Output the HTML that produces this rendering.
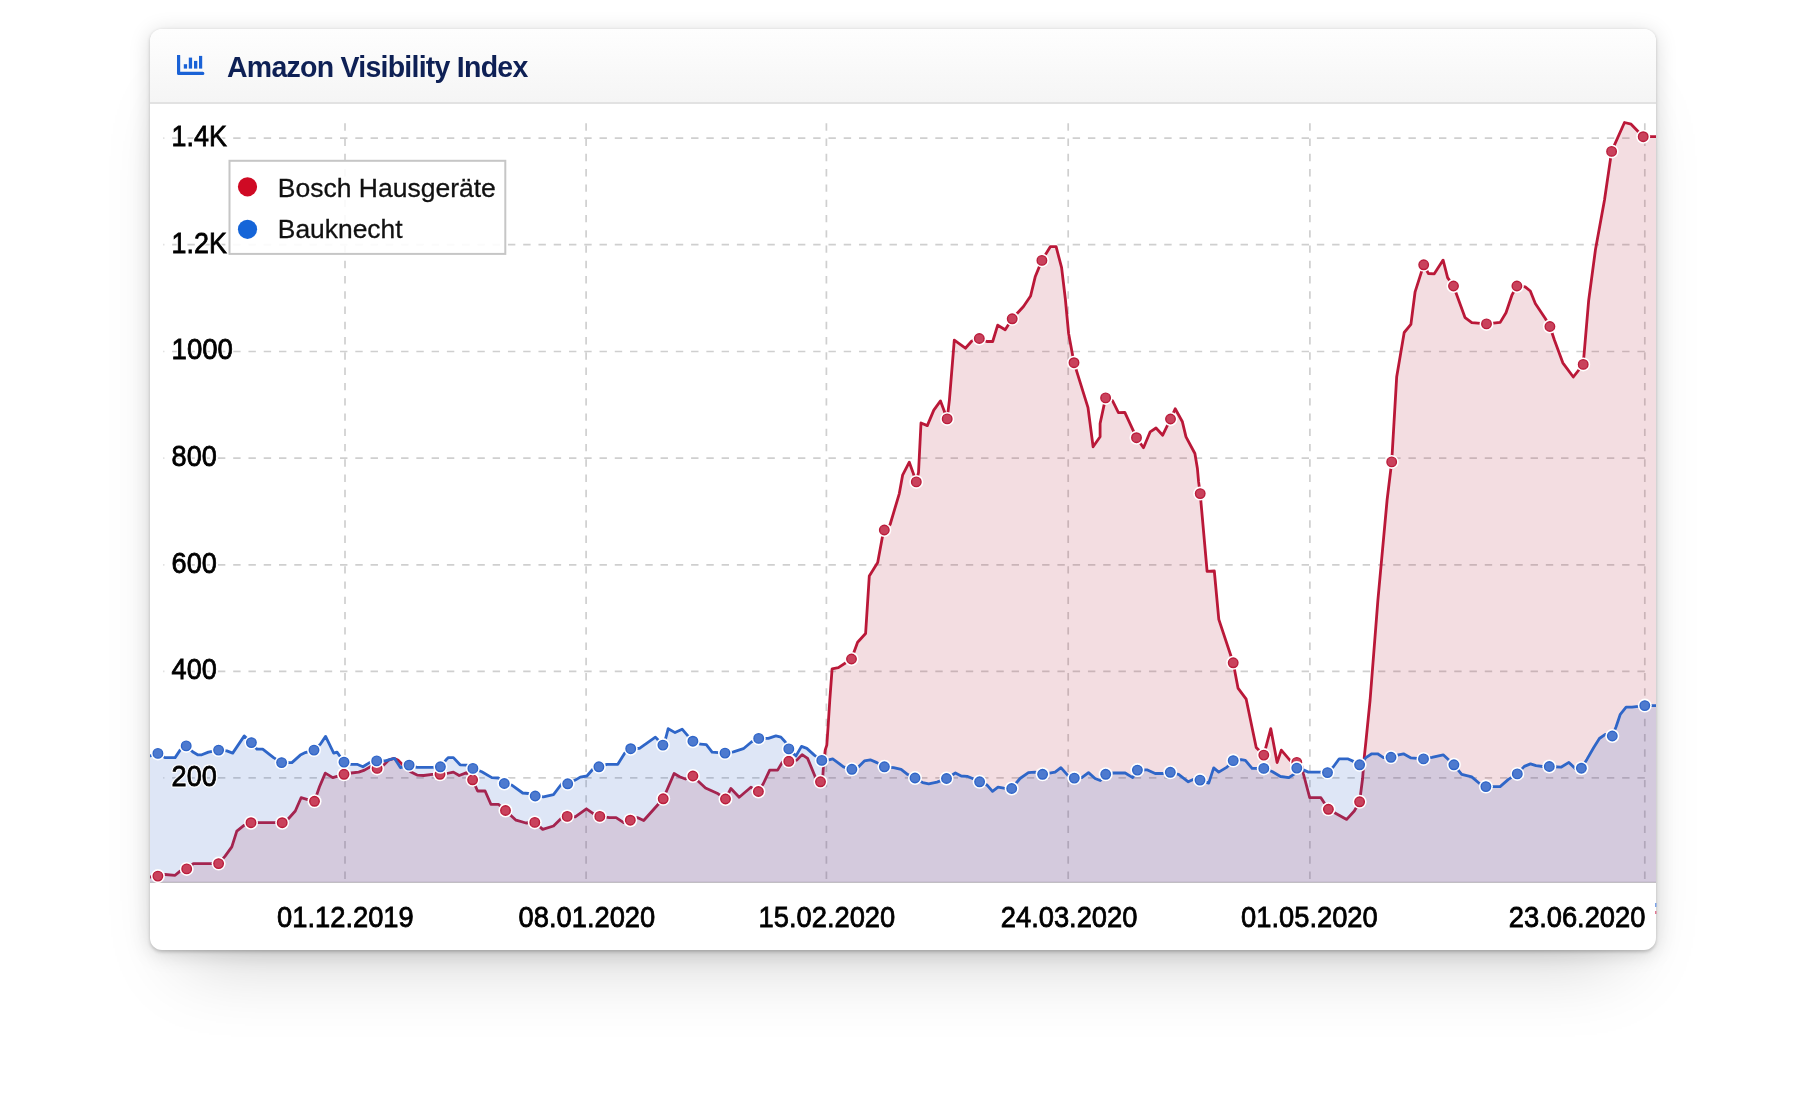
<!DOCTYPE html>
<html><head><meta charset="utf-8"><title>Amazon Visibility Index</title>
<style>
html,body{margin:0;padding:0;background:#fff;}
body{width:1806px;height:1096px;position:relative;overflow:hidden;font-family:"Liberation Sans",sans-serif;}
.card{position:absolute;left:150px;top:29px;width:1506px;height:921px;background:#fff;border-radius:12px;
 box-shadow:0 1.7px 3.6px rgba(0,0,0,.2),0 3px 21px rgba(0,0,0,.15),0 46px 72px -34px rgba(0,0,0,.18);overflow:hidden;}
.hdr{position:absolute;left:0;top:0;right:0;height:73px;background:linear-gradient(#fefefe,#f5f5f5);border-bottom:2px solid #e2e2e2;}
.title{will-change:transform;position:absolute;left:77px;top:20.9px;font-weight:bold;font-size:28.5px;line-height:34px;color:#0e2055;white-space:nowrap;letter-spacing:-0.75px;transform:scaleY(1.03);transform-origin:0 80%;}
.icon{position:absolute;left:26px;top:25.8px;}
.chart{position:absolute;left:0;top:0;will-change:transform;}
</style></head><body>
<div class="card">
 <div class="hdr">
  <svg class="icon" width="30" height="22" viewBox="0 0 30 22"><path d="M2.6 0.8 V18.4 H26.8" fill="none" stroke="#1a62d6" stroke-width="3.2" stroke-linejoin="round" stroke-linecap="round"/><g fill="#1a62d6"><rect x="7.8" y="9.2" width="3.3" height="4.4"/><rect x="12.8" y="2.6" width="3.3" height="11"/><rect x="18" y="5.9" width="3.3" height="7.7"/><rect x="23" y="0.9" width="3.2" height="12.7"/></g></svg>
  <div class="title">Amazon Visibility Index</div>
 </div>
</div>
<svg class="chart" width="1806" height="1096" viewBox="0 0 1806 1096">
<defs><clipPath id="cp"><rect x="150" y="103" width="1506" height="780"/></clipPath></defs>
<g stroke="#cfcfcf" stroke-width="1.7" fill="none">
<path d="M1644.8 138.1 L163.4 138.1" stroke-dasharray="7.4 7.863"/>
<path d="M1644.8 244.7 L163.4 244.7" stroke-dasharray="7.4 7.863"/>
<path d="M1644.8 351.5 L163.4 351.5" stroke-dasharray="7.4 7.863"/>
<path d="M1644.8 458.1 L163.4 458.1" stroke-dasharray="7.4 7.863"/>
<path d="M1644.8 564.8 L163.4 564.8" stroke-dasharray="7.4 7.863"/>
<path d="M1644.8 671.4 L163.4 671.4" stroke-dasharray="7.4 7.863"/>
<path d="M1644.8 777.8 L163.4 777.8" stroke-dasharray="7.4 7.863"/>
<path d="M345.0 123.3 L345.0 882" stroke-dasharray="7.4 7.87"/>
<path d="M586.1 123.3 L586.1 882" stroke-dasharray="7.4 7.87"/>
<path d="M826.4 123.3 L826.4 882" stroke-dasharray="7.4 7.87"/>
<path d="M1068.2 123.3 L1068.2 882" stroke-dasharray="7.4 7.87"/>
<path d="M1309.9 123.3 L1309.9 882" stroke-dasharray="7.4 7.87"/>
<path d="M1644.8 123.3 L1644.8 882" stroke-dasharray="7.4 7.87"/>
</g>
<path d="M150 882.3 L1656 882.3" stroke="#c9c9c9" stroke-width="1.2"/>
<g clip-path="url(#cp)">
<path d="M150.0 877.0 L157.9 876.1 L165.0 874.5 L175.1 875.3 L180.1 871.1 L186.7 868.9 L193.4 863.6 L218.6 863.6 L225.1 856.1 L231.8 846.9 L236.8 831.1 L244.3 825.2 L251.0 822.7 L282.2 822.7 L288.6 818.5 L295.3 811.0 L301.1 797.7 L306.9 799.3 L314.5 801.3 L319.5 786.8 L325.3 773.1 L332.8 777.6 L344.0 774.3 L351.2 773.0 L358.7 772.1 L364.5 770.1 L370.4 766.8 L377.1 768.4 L383.7 765.1 L388.7 760.1 L393.8 758.4 L397.9 760.1 L403.8 765.9 L410.5 771.8 L417.1 775.1 L423.8 775.5 L432.2 774.3 L440.0 774.3 L446.7 773.5 L453.4 772.1 L459.2 775.5 L466.7 772.6 L472.6 779.8 L477.6 791.0 L485.1 791.0 L490.9 804.3 L498.4 804.3 L505.5 810.5 L516.0 820.2 L526.0 823.0 L534.8 822.4 L542.7 829.4 L553.5 826.0 L561.1 818.5 L567.2 816.4 L575.2 816.9 L586.4 808.8 L594.4 814.4 L599.8 816.4 L609.5 817.7 L616.1 817.7 L623.7 822.7 L630.3 820.2 L637.8 817.7 L643.7 820.5 L663.2 798.8 L674.1 773.5 L679.6 776.8 L685.4 779.0 L692.9 776.0 L698.8 781.8 L705.5 788.0 L717.1 793.2 L725.5 799.0 L730.9 788.5 L739.2 797.3 L750.9 787.3 L758.4 791.5 L763.4 783.5 L769.7 770.1 L777.6 770.1 L782.6 761.8 L788.8 761.3 L796.8 760.1 L802.1 754.6 L807.6 758.4 L815.2 776.8 L820.5 781.8 L822.7 778.5 L823.5 765.1 L825.2 750.1 L826.8 745.1 L828.2 725.0 L829.8 700.0 L832.1 668.9 L838.4 667.7 L851.5 659.0 L857.6 642.2 L865.6 633.5 L869.3 575.9 L877.7 562.6 L882.3 537.5 L884.3 530.0 L890.1 524.5 L899.3 493.6 L902.6 475.2 L909.3 462.2 L916.3 481.9 L918.5 472.7 L921.0 423.0 L927.3 425.6 L933.8 410.1 L940.5 400.9 L947.2 418.9 L949.4 400.1 L954.3 340.2 L965.4 348.2 L971.8 341.0 L979.3 338.5 L986.8 341.5 L992.7 341.5 L997.7 325.2 L1005.2 329.8 L1012.2 318.8 L1023.5 306.5 L1030.6 296.0 L1035.2 276.8 L1041.9 260.4 L1050.3 246.7 L1056.1 246.7 L1061.6 267.6 L1065.3 298.5 L1068.6 333.5 L1074.0 362.7 L1088.0 407.6 L1093.1 446.8 L1100.1 436.8 L1100.1 423.5 L1105.6 397.9 L1112.6 400.9 L1118.4 412.6 L1124.8 412.3 L1136.5 437.7 L1143.5 447.7 L1150.2 431.8 L1156.0 428.0 L1162.7 435.2 L1170.5 419.0 L1175.2 408.8 L1182.4 421.8 L1186.0 436.8 L1194.9 453.5 L1197.4 468.5 L1198.6 481.9 L1200.2 493.6 L1207.1 571.3 L1214.3 571.0 L1218.8 619.4 L1233.2 662.8 L1238.0 688.1 L1246.2 699.2 L1256.2 747.5 L1263.8 755.1 L1270.8 728.7 L1277.1 762.6 L1281.3 750.1 L1290.5 760.9 L1296.8 760.9 L1302.2 766.8 L1303.3 773.5 L1309.7 797.7 L1320.9 797.7 L1328.4 809.3 L1335.9 813.5 L1346.7 819.4 L1354.3 811.0 L1359.6 801.8 L1362.6 778.5 L1364.3 756.8 L1365.9 741.7 L1370.1 700.0 L1377.9 600.2 L1387.1 500.0 L1391.7 461.9 L1396.7 376.7 L1404.2 332.5 L1410.9 324.4 L1415.1 291.8 L1423.7 264.8 L1428.4 273.5 L1434.3 273.8 L1443.1 260.1 L1447.6 277.6 L1453.5 286.0 L1465.1 317.7 L1471.8 322.7 L1486.5 323.9 L1500.2 322.4 L1506.0 312.7 L1511.9 295.2 L1516.9 286.0 L1525.2 286.8 L1530.3 291.0 L1535.3 303.5 L1545.3 318.5 L1549.9 326.5 L1554.5 340.2 L1562.8 362.8 L1573.3 377.0 L1583.2 364.4 L1588.7 300.2 L1595.4 250.1 L1604.5 200.0 L1611.6 151.4 L1624.5 122.5 L1631.1 124.2 L1643.2 136.7 L1656.0 136.7 L1656.0 882.3 L150.0 882.3 Z" fill="#af1c37" fill-opacity="0.15"/>
<path d="M150.0 877.0 L157.9 876.1 L165.0 874.5 L175.1 875.3 L180.1 871.1 L186.7 868.9 L193.4 863.6 L218.6 863.6 L225.1 856.1 L231.8 846.9 L236.8 831.1 L244.3 825.2 L251.0 822.7 L282.2 822.7 L288.6 818.5 L295.3 811.0 L301.1 797.7 L306.9 799.3 L314.5 801.3 L319.5 786.8 L325.3 773.1 L332.8 777.6 L344.0 774.3 L351.2 773.0 L358.7 772.1 L364.5 770.1 L370.4 766.8 L377.1 768.4 L383.7 765.1 L388.7 760.1 L393.8 758.4 L397.9 760.1 L403.8 765.9 L410.5 771.8 L417.1 775.1 L423.8 775.5 L432.2 774.3 L440.0 774.3 L446.7 773.5 L453.4 772.1 L459.2 775.5 L466.7 772.6 L472.6 779.8 L477.6 791.0 L485.1 791.0 L490.9 804.3 L498.4 804.3 L505.5 810.5 L516.0 820.2 L526.0 823.0 L534.8 822.4 L542.7 829.4 L553.5 826.0 L561.1 818.5 L567.2 816.4 L575.2 816.9 L586.4 808.8 L594.4 814.4 L599.8 816.4 L609.5 817.7 L616.1 817.7 L623.7 822.7 L630.3 820.2 L637.8 817.7 L643.7 820.5 L663.2 798.8 L674.1 773.5 L679.6 776.8 L685.4 779.0 L692.9 776.0 L698.8 781.8 L705.5 788.0 L717.1 793.2 L725.5 799.0 L730.9 788.5 L739.2 797.3 L750.9 787.3 L758.4 791.5 L763.4 783.5 L769.7 770.1 L777.6 770.1 L782.6 761.8 L788.8 761.3 L796.8 760.1 L802.1 754.6 L807.6 758.4 L815.2 776.8 L820.5 781.8 L822.7 778.5 L823.5 765.1 L825.2 750.1 L826.8 745.1 L828.2 725.0 L829.8 700.0 L832.1 668.9 L838.4 667.7 L851.5 659.0 L857.6 642.2 L865.6 633.5 L869.3 575.9 L877.7 562.6 L882.3 537.5 L884.3 530.0 L890.1 524.5 L899.3 493.6 L902.6 475.2 L909.3 462.2 L916.3 481.9 L918.5 472.7 L921.0 423.0 L927.3 425.6 L933.8 410.1 L940.5 400.9 L947.2 418.9 L949.4 400.1 L954.3 340.2 L965.4 348.2 L971.8 341.0 L979.3 338.5 L986.8 341.5 L992.7 341.5 L997.7 325.2 L1005.2 329.8 L1012.2 318.8 L1023.5 306.5 L1030.6 296.0 L1035.2 276.8 L1041.9 260.4 L1050.3 246.7 L1056.1 246.7 L1061.6 267.6 L1065.3 298.5 L1068.6 333.5 L1074.0 362.7 L1088.0 407.6 L1093.1 446.8 L1100.1 436.8 L1100.1 423.5 L1105.6 397.9 L1112.6 400.9 L1118.4 412.6 L1124.8 412.3 L1136.5 437.7 L1143.5 447.7 L1150.2 431.8 L1156.0 428.0 L1162.7 435.2 L1170.5 419.0 L1175.2 408.8 L1182.4 421.8 L1186.0 436.8 L1194.9 453.5 L1197.4 468.5 L1198.6 481.9 L1200.2 493.6 L1207.1 571.3 L1214.3 571.0 L1218.8 619.4 L1233.2 662.8 L1238.0 688.1 L1246.2 699.2 L1256.2 747.5 L1263.8 755.1 L1270.8 728.7 L1277.1 762.6 L1281.3 750.1 L1290.5 760.9 L1296.8 760.9 L1302.2 766.8 L1303.3 773.5 L1309.7 797.7 L1320.9 797.7 L1328.4 809.3 L1335.9 813.5 L1346.7 819.4 L1354.3 811.0 L1359.6 801.8 L1362.6 778.5 L1364.3 756.8 L1365.9 741.7 L1370.1 700.0 L1377.9 600.2 L1387.1 500.0 L1391.7 461.9 L1396.7 376.7 L1404.2 332.5 L1410.9 324.4 L1415.1 291.8 L1423.7 264.8 L1428.4 273.5 L1434.3 273.8 L1443.1 260.1 L1447.6 277.6 L1453.5 286.0 L1465.1 317.7 L1471.8 322.7 L1486.5 323.9 L1500.2 322.4 L1506.0 312.7 L1511.9 295.2 L1516.9 286.0 L1525.2 286.8 L1530.3 291.0 L1535.3 303.5 L1545.3 318.5 L1549.9 326.5 L1554.5 340.2 L1562.8 362.8 L1573.3 377.0 L1583.2 364.4 L1588.7 300.2 L1595.4 250.1 L1604.5 200.0 L1611.6 151.4 L1624.5 122.5 L1631.1 124.2 L1643.2 136.7 L1656.0 136.7" fill="none" stroke="#ba1838" stroke-width="2.8" stroke-linejoin="round" stroke-linecap="round"/>
<path d="M150.0 755.9 L157.9 753.4 L165.0 757.6 L175.1 757.6 L180.1 750.1 L186.2 745.9 L192.6 751.8 L197.6 754.8 L201.8 754.8 L208.4 752.1 L218.6 750.1 L226.8 750.9 L232.7 753.1 L244.3 735.9 L251.4 742.6 L256.9 749.2 L262.7 749.2 L273.6 757.6 L281.6 762.6 L291.9 762.6 L300.3 755.1 L305.3 752.6 L314.0 750.1 L320.3 744.2 L325.6 736.4 L333.7 753.1 L337.0 752.1 L340.3 756.8 L344.0 762.1 L350.4 764.3 L357.0 764.3 L362.9 766.8 L370.4 762.1 L376.7 760.9 L385.4 760.9 L390.4 759.3 L394.6 758.4 L400.4 767.6 L409.1 765.1 L417.1 767.3 L432.2 767.3 L440.4 766.8 L445.9 760.1 L448.4 757.6 L453.4 757.6 L460.1 764.8 L466.7 765.1 L472.9 768.4 L481.8 771.8 L491.8 777.6 L498.4 778.0 L504.3 783.5 L511.8 785.1 L522.7 793.0 L528.5 793.5 L535.2 796.0 L543.5 796.8 L553.5 794.7 L561.9 783.5 L567.7 783.8 L575.2 780.1 L580.3 777.1 L586.9 776.0 L592.8 769.3 L598.9 766.8 L607.0 764.3 L617.8 764.3 L624.5 753.4 L630.7 748.7 L639.5 748.4 L655.4 737.1 L657.4 739.2 L662.9 745.1 L665.7 738.4 L668.2 728.7 L675.1 732.6 L682.1 729.2 L687.9 735.9 L692.9 741.2 L700.5 744.2 L706.3 744.6 L712.1 752.1 L725.0 753.1 L733.4 751.8 L743.4 748.7 L751.7 741.7 L758.7 738.4 L768.4 738.4 L775.9 735.9 L780.9 737.1 L785.1 741.7 L788.8 748.9 L796.0 755.9 L801.5 746.4 L806.8 748.4 L814.3 755.1 L821.8 760.4 L826.8 760.4 L832.7 758.8 L843.5 766.8 L851.9 769.3 L858.6 766.8 L864.4 760.9 L870.3 759.8 L876.9 762.6 L884.4 766.8 L893.6 767.6 L901.1 769.3 L907.8 774.6 L915.0 778.0 L922.8 782.6 L928.7 783.8 L937.0 782.1 L946.5 778.5 L955.4 773.0 L961.2 776.0 L967.1 776.3 L973.8 779.0 L979.6 781.8 L987.1 785.1 L992.5 791.3 L998.0 787.1 L1003.8 788.1 L1011.7 788.5 L1020.0 778.5 L1028.4 772.6 L1035.0 772.1 L1042.6 774.3 L1055.1 772.1 L1060.9 767.6 L1067.6 775.1 L1074.3 778.1 L1081.8 777.6 L1088.5 772.6 L1095.1 778.5 L1100.2 780.5 L1105.7 774.3 L1113.5 773.0 L1125.2 773.0 L1132.7 777.6 L1137.4 770.1 L1146.9 769.8 L1155.2 773.5 L1162.8 773.5 L1170.3 772.3 L1178.6 774.3 L1188.3 781.8 L1193.6 779.3 L1200.0 780.1 L1208.7 783.1 L1213.7 767.9 L1218.7 772.1 L1227.0 767.1 L1233.2 760.6 L1241.2 759.6 L1245.4 760.4 L1252.1 768.4 L1263.8 768.4 L1272.1 771.5 L1280.5 776.5 L1288.8 777.6 L1293.8 774.3 L1296.8 768.1 L1300.0 768.4 L1308.3 772.1 L1320.0 772.1 L1327.5 772.6 L1333.4 766.8 L1339.2 758.8 L1347.6 758.8 L1353.4 761.4 L1359.6 764.8 L1365.9 757.6 L1371.8 753.8 L1377.6 753.8 L1383.5 757.6 L1391.0 757.3 L1398.5 754.8 L1403.5 753.8 L1411.0 757.9 L1423.5 758.9 L1431.9 757.3 L1443.2 754.8 L1448.6 759.8 L1453.9 764.8 L1461.7 774.4 L1471.7 776.9 L1479.2 783.2 L1485.9 786.6 L1500.1 786.6 L1508.4 779.4 L1517.3 773.9 L1524.3 766.4 L1530.5 763.9 L1536.0 765.7 L1542.7 766.5 L1549.3 766.5 L1561.0 767.2 L1568.9 762.4 L1575.2 768.5 L1581.4 768.2 L1586.9 759.4 L1593.6 747.7 L1599.4 738.5 L1605.3 734.3 L1612.3 736.0 L1616.1 726.8 L1620.3 714.3 L1626.1 707.1 L1632.0 707.1 L1644.8 705.6 L1656.0 705.6 L1656.0 882.3 L150.0 882.3 Z" fill="#2f66c8" fill-opacity="0.16"/>
<path d="M150.0 755.9 L157.9 753.4 L165.0 757.6 L175.1 757.6 L180.1 750.1 L186.2 745.9 L192.6 751.8 L197.6 754.8 L201.8 754.8 L208.4 752.1 L218.6 750.1 L226.8 750.9 L232.7 753.1 L244.3 735.9 L251.4 742.6 L256.9 749.2 L262.7 749.2 L273.6 757.6 L281.6 762.6 L291.9 762.6 L300.3 755.1 L305.3 752.6 L314.0 750.1 L320.3 744.2 L325.6 736.4 L333.7 753.1 L337.0 752.1 L340.3 756.8 L344.0 762.1 L350.4 764.3 L357.0 764.3 L362.9 766.8 L370.4 762.1 L376.7 760.9 L385.4 760.9 L390.4 759.3 L394.6 758.4 L400.4 767.6 L409.1 765.1 L417.1 767.3 L432.2 767.3 L440.4 766.8 L445.9 760.1 L448.4 757.6 L453.4 757.6 L460.1 764.8 L466.7 765.1 L472.9 768.4 L481.8 771.8 L491.8 777.6 L498.4 778.0 L504.3 783.5 L511.8 785.1 L522.7 793.0 L528.5 793.5 L535.2 796.0 L543.5 796.8 L553.5 794.7 L561.9 783.5 L567.7 783.8 L575.2 780.1 L580.3 777.1 L586.9 776.0 L592.8 769.3 L598.9 766.8 L607.0 764.3 L617.8 764.3 L624.5 753.4 L630.7 748.7 L639.5 748.4 L655.4 737.1 L657.4 739.2 L662.9 745.1 L665.7 738.4 L668.2 728.7 L675.1 732.6 L682.1 729.2 L687.9 735.9 L692.9 741.2 L700.5 744.2 L706.3 744.6 L712.1 752.1 L725.0 753.1 L733.4 751.8 L743.4 748.7 L751.7 741.7 L758.7 738.4 L768.4 738.4 L775.9 735.9 L780.9 737.1 L785.1 741.7 L788.8 748.9 L796.0 755.9 L801.5 746.4 L806.8 748.4 L814.3 755.1 L821.8 760.4 L826.8 760.4 L832.7 758.8 L843.5 766.8 L851.9 769.3 L858.6 766.8 L864.4 760.9 L870.3 759.8 L876.9 762.6 L884.4 766.8 L893.6 767.6 L901.1 769.3 L907.8 774.6 L915.0 778.0 L922.8 782.6 L928.7 783.8 L937.0 782.1 L946.5 778.5 L955.4 773.0 L961.2 776.0 L967.1 776.3 L973.8 779.0 L979.6 781.8 L987.1 785.1 L992.5 791.3 L998.0 787.1 L1003.8 788.1 L1011.7 788.5 L1020.0 778.5 L1028.4 772.6 L1035.0 772.1 L1042.6 774.3 L1055.1 772.1 L1060.9 767.6 L1067.6 775.1 L1074.3 778.1 L1081.8 777.6 L1088.5 772.6 L1095.1 778.5 L1100.2 780.5 L1105.7 774.3 L1113.5 773.0 L1125.2 773.0 L1132.7 777.6 L1137.4 770.1 L1146.9 769.8 L1155.2 773.5 L1162.8 773.5 L1170.3 772.3 L1178.6 774.3 L1188.3 781.8 L1193.6 779.3 L1200.0 780.1 L1208.7 783.1 L1213.7 767.9 L1218.7 772.1 L1227.0 767.1 L1233.2 760.6 L1241.2 759.6 L1245.4 760.4 L1252.1 768.4 L1263.8 768.4 L1272.1 771.5 L1280.5 776.5 L1288.8 777.6 L1293.8 774.3 L1296.8 768.1 L1300.0 768.4 L1308.3 772.1 L1320.0 772.1 L1327.5 772.6 L1333.4 766.8 L1339.2 758.8 L1347.6 758.8 L1353.4 761.4 L1359.6 764.8 L1365.9 757.6 L1371.8 753.8 L1377.6 753.8 L1383.5 757.6 L1391.0 757.3 L1398.5 754.8 L1403.5 753.8 L1411.0 757.9 L1423.5 758.9 L1431.9 757.3 L1443.2 754.8 L1448.6 759.8 L1453.9 764.8 L1461.7 774.4 L1471.7 776.9 L1479.2 783.2 L1485.9 786.6 L1500.1 786.6 L1508.4 779.4 L1517.3 773.9 L1524.3 766.4 L1530.5 763.9 L1536.0 765.7 L1542.7 766.5 L1549.3 766.5 L1561.0 767.2 L1568.9 762.4 L1575.2 768.5 L1581.4 768.2 L1586.9 759.4 L1593.6 747.7 L1599.4 738.5 L1605.3 734.3 L1612.3 736.0 L1616.1 726.8 L1620.3 714.3 L1626.1 707.1 L1632.0 707.1 L1644.8 705.6 L1656.0 705.6" fill="none" stroke="#2f66c8" stroke-width="2.8" stroke-linejoin="round" stroke-linecap="round"/>
<circle cx="157.9" cy="876.1" r="7" fill="#fff"/><circle cx="157.9" cy="876.1" r="4.75" fill="#c9425c" stroke="#ba1c3b" stroke-width="1.4"/>
<circle cx="186.7" cy="868.9" r="7" fill="#fff"/><circle cx="186.7" cy="868.9" r="4.75" fill="#c9425c" stroke="#ba1c3b" stroke-width="1.4"/>
<circle cx="218.6" cy="863.6" r="7" fill="#fff"/><circle cx="218.6" cy="863.6" r="4.75" fill="#c9425c" stroke="#ba1c3b" stroke-width="1.4"/>
<circle cx="251.0" cy="822.7" r="7" fill="#fff"/><circle cx="251.0" cy="822.7" r="4.75" fill="#c9425c" stroke="#ba1c3b" stroke-width="1.4"/>
<circle cx="282.2" cy="822.7" r="7" fill="#fff"/><circle cx="282.2" cy="822.7" r="4.75" fill="#c9425c" stroke="#ba1c3b" stroke-width="1.4"/>
<circle cx="314.5" cy="801.3" r="7" fill="#fff"/><circle cx="314.5" cy="801.3" r="4.75" fill="#c9425c" stroke="#ba1c3b" stroke-width="1.4"/>
<circle cx="344.0" cy="774.3" r="7" fill="#fff"/><circle cx="344.0" cy="774.3" r="4.75" fill="#c9425c" stroke="#ba1c3b" stroke-width="1.4"/>
<circle cx="377.1" cy="768.4" r="7" fill="#fff"/><circle cx="377.1" cy="768.4" r="4.75" fill="#c9425c" stroke="#ba1c3b" stroke-width="1.4"/>
<circle cx="440.0" cy="774.3" r="7" fill="#fff"/><circle cx="440.0" cy="774.3" r="4.75" fill="#c9425c" stroke="#ba1c3b" stroke-width="1.4"/>
<circle cx="472.6" cy="779.8" r="7" fill="#fff"/><circle cx="472.6" cy="779.8" r="4.75" fill="#c9425c" stroke="#ba1c3b" stroke-width="1.4"/>
<circle cx="505.5" cy="810.5" r="7" fill="#fff"/><circle cx="505.5" cy="810.5" r="4.75" fill="#c9425c" stroke="#ba1c3b" stroke-width="1.4"/>
<circle cx="534.8" cy="822.4" r="7" fill="#fff"/><circle cx="534.8" cy="822.4" r="4.75" fill="#c9425c" stroke="#ba1c3b" stroke-width="1.4"/>
<circle cx="567.2" cy="816.4" r="7" fill="#fff"/><circle cx="567.2" cy="816.4" r="4.75" fill="#c9425c" stroke="#ba1c3b" stroke-width="1.4"/>
<circle cx="599.8" cy="816.4" r="7" fill="#fff"/><circle cx="599.8" cy="816.4" r="4.75" fill="#c9425c" stroke="#ba1c3b" stroke-width="1.4"/>
<circle cx="630.3" cy="820.2" r="7" fill="#fff"/><circle cx="630.3" cy="820.2" r="4.75" fill="#c9425c" stroke="#ba1c3b" stroke-width="1.4"/>
<circle cx="663.2" cy="798.8" r="7" fill="#fff"/><circle cx="663.2" cy="798.8" r="4.75" fill="#c9425c" stroke="#ba1c3b" stroke-width="1.4"/>
<circle cx="692.9" cy="776.0" r="7" fill="#fff"/><circle cx="692.9" cy="776.0" r="4.75" fill="#c9425c" stroke="#ba1c3b" stroke-width="1.4"/>
<circle cx="725.5" cy="799.0" r="7" fill="#fff"/><circle cx="725.5" cy="799.0" r="4.75" fill="#c9425c" stroke="#ba1c3b" stroke-width="1.4"/>
<circle cx="758.4" cy="791.5" r="7" fill="#fff"/><circle cx="758.4" cy="791.5" r="4.75" fill="#c9425c" stroke="#ba1c3b" stroke-width="1.4"/>
<circle cx="788.8" cy="761.3" r="7" fill="#fff"/><circle cx="788.8" cy="761.3" r="4.75" fill="#c9425c" stroke="#ba1c3b" stroke-width="1.4"/>
<circle cx="820.5" cy="781.8" r="7" fill="#fff"/><circle cx="820.5" cy="781.8" r="4.75" fill="#c9425c" stroke="#ba1c3b" stroke-width="1.4"/>
<circle cx="851.5" cy="659.0" r="7" fill="#fff"/><circle cx="851.5" cy="659.0" r="4.75" fill="#c9425c" stroke="#ba1c3b" stroke-width="1.4"/>
<circle cx="884.3" cy="530.0" r="7" fill="#fff"/><circle cx="884.3" cy="530.0" r="4.75" fill="#c9425c" stroke="#ba1c3b" stroke-width="1.4"/>
<circle cx="916.3" cy="481.9" r="7" fill="#fff"/><circle cx="916.3" cy="481.9" r="4.75" fill="#c9425c" stroke="#ba1c3b" stroke-width="1.4"/>
<circle cx="947.2" cy="418.9" r="7" fill="#fff"/><circle cx="947.2" cy="418.9" r="4.75" fill="#c9425c" stroke="#ba1c3b" stroke-width="1.4"/>
<circle cx="979.3" cy="338.5" r="7" fill="#fff"/><circle cx="979.3" cy="338.5" r="4.75" fill="#c9425c" stroke="#ba1c3b" stroke-width="1.4"/>
<circle cx="1012.2" cy="318.8" r="7" fill="#fff"/><circle cx="1012.2" cy="318.8" r="4.75" fill="#c9425c" stroke="#ba1c3b" stroke-width="1.4"/>
<circle cx="1041.9" cy="260.4" r="7" fill="#fff"/><circle cx="1041.9" cy="260.4" r="4.75" fill="#c9425c" stroke="#ba1c3b" stroke-width="1.4"/>
<circle cx="1074.0" cy="362.7" r="7" fill="#fff"/><circle cx="1074.0" cy="362.7" r="4.75" fill="#c9425c" stroke="#ba1c3b" stroke-width="1.4"/>
<circle cx="1105.6" cy="397.9" r="7" fill="#fff"/><circle cx="1105.6" cy="397.9" r="4.75" fill="#c9425c" stroke="#ba1c3b" stroke-width="1.4"/>
<circle cx="1136.5" cy="437.7" r="7" fill="#fff"/><circle cx="1136.5" cy="437.7" r="4.75" fill="#c9425c" stroke="#ba1c3b" stroke-width="1.4"/>
<circle cx="1170.5" cy="419.0" r="7" fill="#fff"/><circle cx="1170.5" cy="419.0" r="4.75" fill="#c9425c" stroke="#ba1c3b" stroke-width="1.4"/>
<circle cx="1200.2" cy="493.6" r="7" fill="#fff"/><circle cx="1200.2" cy="493.6" r="4.75" fill="#c9425c" stroke="#ba1c3b" stroke-width="1.4"/>
<circle cx="1233.2" cy="662.8" r="7" fill="#fff"/><circle cx="1233.2" cy="662.8" r="4.75" fill="#c9425c" stroke="#ba1c3b" stroke-width="1.4"/>
<circle cx="1263.8" cy="755.1" r="7" fill="#fff"/><circle cx="1263.8" cy="755.1" r="4.75" fill="#c9425c" stroke="#ba1c3b" stroke-width="1.4"/>
<circle cx="1296.8" cy="762.4" r="7" fill="#fff"/><circle cx="1296.8" cy="762.4" r="4.75" fill="#c9425c" stroke="#ba1c3b" stroke-width="1.4"/>
<circle cx="1328.4" cy="809.3" r="7" fill="#fff"/><circle cx="1328.4" cy="809.3" r="4.75" fill="#c9425c" stroke="#ba1c3b" stroke-width="1.4"/>
<circle cx="1359.6" cy="801.8" r="7" fill="#fff"/><circle cx="1359.6" cy="801.8" r="4.75" fill="#c9425c" stroke="#ba1c3b" stroke-width="1.4"/>
<circle cx="1391.7" cy="461.9" r="7" fill="#fff"/><circle cx="1391.7" cy="461.9" r="4.75" fill="#c9425c" stroke="#ba1c3b" stroke-width="1.4"/>
<circle cx="1423.7" cy="264.8" r="7" fill="#fff"/><circle cx="1423.7" cy="264.8" r="4.75" fill="#c9425c" stroke="#ba1c3b" stroke-width="1.4"/>
<circle cx="1453.5" cy="286.0" r="7" fill="#fff"/><circle cx="1453.5" cy="286.0" r="4.75" fill="#c9425c" stroke="#ba1c3b" stroke-width="1.4"/>
<circle cx="1486.5" cy="323.9" r="7" fill="#fff"/><circle cx="1486.5" cy="323.9" r="4.75" fill="#c9425c" stroke="#ba1c3b" stroke-width="1.4"/>
<circle cx="1516.9" cy="286.0" r="7" fill="#fff"/><circle cx="1516.9" cy="286.0" r="4.75" fill="#c9425c" stroke="#ba1c3b" stroke-width="1.4"/>
<circle cx="1549.9" cy="326.5" r="7" fill="#fff"/><circle cx="1549.9" cy="326.5" r="4.75" fill="#c9425c" stroke="#ba1c3b" stroke-width="1.4"/>
<circle cx="1583.2" cy="364.4" r="7" fill="#fff"/><circle cx="1583.2" cy="364.4" r="4.75" fill="#c9425c" stroke="#ba1c3b" stroke-width="1.4"/>
<circle cx="1611.6" cy="151.4" r="7" fill="#fff"/><circle cx="1611.6" cy="151.4" r="4.75" fill="#c9425c" stroke="#ba1c3b" stroke-width="1.4"/>
<circle cx="1643.2" cy="136.7" r="7" fill="#fff"/><circle cx="1643.2" cy="136.7" r="4.75" fill="#c9425c" stroke="#ba1c3b" stroke-width="1.4"/>
<circle cx="157.9" cy="753.4" r="7" fill="#fff"/><circle cx="157.9" cy="753.4" r="4.75" fill="#4d7acf" stroke="#2f65c8" stroke-width="1.4"/>
<circle cx="186.2" cy="745.9" r="7" fill="#fff"/><circle cx="186.2" cy="745.9" r="4.75" fill="#4d7acf" stroke="#2f65c8" stroke-width="1.4"/>
<circle cx="218.6" cy="750.1" r="7" fill="#fff"/><circle cx="218.6" cy="750.1" r="4.75" fill="#4d7acf" stroke="#2f65c8" stroke-width="1.4"/>
<circle cx="251.4" cy="742.6" r="7" fill="#fff"/><circle cx="251.4" cy="742.6" r="4.75" fill="#4d7acf" stroke="#2f65c8" stroke-width="1.4"/>
<circle cx="281.6" cy="762.6" r="7" fill="#fff"/><circle cx="281.6" cy="762.6" r="4.75" fill="#4d7acf" stroke="#2f65c8" stroke-width="1.4"/>
<circle cx="314.0" cy="750.1" r="7" fill="#fff"/><circle cx="314.0" cy="750.1" r="4.75" fill="#4d7acf" stroke="#2f65c8" stroke-width="1.4"/>
<circle cx="344.0" cy="762.1" r="7" fill="#fff"/><circle cx="344.0" cy="762.1" r="4.75" fill="#4d7acf" stroke="#2f65c8" stroke-width="1.4"/>
<circle cx="376.7" cy="760.9" r="7" fill="#fff"/><circle cx="376.7" cy="760.9" r="4.75" fill="#4d7acf" stroke="#2f65c8" stroke-width="1.4"/>
<circle cx="409.1" cy="765.1" r="7" fill="#fff"/><circle cx="409.1" cy="765.1" r="4.75" fill="#4d7acf" stroke="#2f65c8" stroke-width="1.4"/>
<circle cx="440.4" cy="766.8" r="7" fill="#fff"/><circle cx="440.4" cy="766.8" r="4.75" fill="#4d7acf" stroke="#2f65c8" stroke-width="1.4"/>
<circle cx="472.9" cy="768.4" r="7" fill="#fff"/><circle cx="472.9" cy="768.4" r="4.75" fill="#4d7acf" stroke="#2f65c8" stroke-width="1.4"/>
<circle cx="504.3" cy="783.5" r="7" fill="#fff"/><circle cx="504.3" cy="783.5" r="4.75" fill="#4d7acf" stroke="#2f65c8" stroke-width="1.4"/>
<circle cx="535.2" cy="796.0" r="7" fill="#fff"/><circle cx="535.2" cy="796.0" r="4.75" fill="#4d7acf" stroke="#2f65c8" stroke-width="1.4"/>
<circle cx="567.7" cy="783.8" r="7" fill="#fff"/><circle cx="567.7" cy="783.8" r="4.75" fill="#4d7acf" stroke="#2f65c8" stroke-width="1.4"/>
<circle cx="598.9" cy="766.8" r="7" fill="#fff"/><circle cx="598.9" cy="766.8" r="4.75" fill="#4d7acf" stroke="#2f65c8" stroke-width="1.4"/>
<circle cx="630.7" cy="748.7" r="7" fill="#fff"/><circle cx="630.7" cy="748.7" r="4.75" fill="#4d7acf" stroke="#2f65c8" stroke-width="1.4"/>
<circle cx="662.9" cy="745.1" r="7" fill="#fff"/><circle cx="662.9" cy="745.1" r="4.75" fill="#4d7acf" stroke="#2f65c8" stroke-width="1.4"/>
<circle cx="692.9" cy="741.2" r="7" fill="#fff"/><circle cx="692.9" cy="741.2" r="4.75" fill="#4d7acf" stroke="#2f65c8" stroke-width="1.4"/>
<circle cx="725.0" cy="753.1" r="7" fill="#fff"/><circle cx="725.0" cy="753.1" r="4.75" fill="#4d7acf" stroke="#2f65c8" stroke-width="1.4"/>
<circle cx="758.7" cy="738.4" r="7" fill="#fff"/><circle cx="758.7" cy="738.4" r="4.75" fill="#4d7acf" stroke="#2f65c8" stroke-width="1.4"/>
<circle cx="788.8" cy="748.9" r="7" fill="#fff"/><circle cx="788.8" cy="748.9" r="4.75" fill="#4d7acf" stroke="#2f65c8" stroke-width="1.4"/>
<circle cx="821.8" cy="760.4" r="7" fill="#fff"/><circle cx="821.8" cy="760.4" r="4.75" fill="#4d7acf" stroke="#2f65c8" stroke-width="1.4"/>
<circle cx="851.9" cy="769.3" r="7" fill="#fff"/><circle cx="851.9" cy="769.3" r="4.75" fill="#4d7acf" stroke="#2f65c8" stroke-width="1.4"/>
<circle cx="884.4" cy="766.8" r="7" fill="#fff"/><circle cx="884.4" cy="766.8" r="4.75" fill="#4d7acf" stroke="#2f65c8" stroke-width="1.4"/>
<circle cx="915.0" cy="778.0" r="7" fill="#fff"/><circle cx="915.0" cy="778.0" r="4.75" fill="#4d7acf" stroke="#2f65c8" stroke-width="1.4"/>
<circle cx="946.5" cy="778.5" r="7" fill="#fff"/><circle cx="946.5" cy="778.5" r="4.75" fill="#4d7acf" stroke="#2f65c8" stroke-width="1.4"/>
<circle cx="979.6" cy="781.8" r="7" fill="#fff"/><circle cx="979.6" cy="781.8" r="4.75" fill="#4d7acf" stroke="#2f65c8" stroke-width="1.4"/>
<circle cx="1011.7" cy="788.5" r="7" fill="#fff"/><circle cx="1011.7" cy="788.5" r="4.75" fill="#4d7acf" stroke="#2f65c8" stroke-width="1.4"/>
<circle cx="1042.6" cy="774.3" r="7" fill="#fff"/><circle cx="1042.6" cy="774.3" r="4.75" fill="#4d7acf" stroke="#2f65c8" stroke-width="1.4"/>
<circle cx="1074.3" cy="778.1" r="7" fill="#fff"/><circle cx="1074.3" cy="778.1" r="4.75" fill="#4d7acf" stroke="#2f65c8" stroke-width="1.4"/>
<circle cx="1105.7" cy="774.3" r="7" fill="#fff"/><circle cx="1105.7" cy="774.3" r="4.75" fill="#4d7acf" stroke="#2f65c8" stroke-width="1.4"/>
<circle cx="1137.4" cy="770.1" r="7" fill="#fff"/><circle cx="1137.4" cy="770.1" r="4.75" fill="#4d7acf" stroke="#2f65c8" stroke-width="1.4"/>
<circle cx="1170.3" cy="772.3" r="7" fill="#fff"/><circle cx="1170.3" cy="772.3" r="4.75" fill="#4d7acf" stroke="#2f65c8" stroke-width="1.4"/>
<circle cx="1200.0" cy="780.1" r="7" fill="#fff"/><circle cx="1200.0" cy="780.1" r="4.75" fill="#4d7acf" stroke="#2f65c8" stroke-width="1.4"/>
<circle cx="1233.2" cy="760.6" r="7" fill="#fff"/><circle cx="1233.2" cy="760.6" r="4.75" fill="#4d7acf" stroke="#2f65c8" stroke-width="1.4"/>
<circle cx="1263.8" cy="768.4" r="7" fill="#fff"/><circle cx="1263.8" cy="768.4" r="4.75" fill="#4d7acf" stroke="#2f65c8" stroke-width="1.4"/>
<circle cx="1296.8" cy="768.1" r="7" fill="#fff"/><circle cx="1296.8" cy="768.1" r="4.75" fill="#4d7acf" stroke="#2f65c8" stroke-width="1.4"/>
<circle cx="1327.5" cy="772.6" r="7" fill="#fff"/><circle cx="1327.5" cy="772.6" r="4.75" fill="#4d7acf" stroke="#2f65c8" stroke-width="1.4"/>
<circle cx="1359.6" cy="764.8" r="7" fill="#fff"/><circle cx="1359.6" cy="764.8" r="4.75" fill="#4d7acf" stroke="#2f65c8" stroke-width="1.4"/>
<circle cx="1391.0" cy="757.3" r="7" fill="#fff"/><circle cx="1391.0" cy="757.3" r="4.75" fill="#4d7acf" stroke="#2f65c8" stroke-width="1.4"/>
<circle cx="1423.5" cy="758.9" r="7" fill="#fff"/><circle cx="1423.5" cy="758.9" r="4.75" fill="#4d7acf" stroke="#2f65c8" stroke-width="1.4"/>
<circle cx="1453.9" cy="764.8" r="7" fill="#fff"/><circle cx="1453.9" cy="764.8" r="4.75" fill="#4d7acf" stroke="#2f65c8" stroke-width="1.4"/>
<circle cx="1485.9" cy="786.6" r="7" fill="#fff"/><circle cx="1485.9" cy="786.6" r="4.75" fill="#4d7acf" stroke="#2f65c8" stroke-width="1.4"/>
<circle cx="1517.3" cy="773.9" r="7" fill="#fff"/><circle cx="1517.3" cy="773.9" r="4.75" fill="#4d7acf" stroke="#2f65c8" stroke-width="1.4"/>
<circle cx="1549.3" cy="766.5" r="7" fill="#fff"/><circle cx="1549.3" cy="766.5" r="4.75" fill="#4d7acf" stroke="#2f65c8" stroke-width="1.4"/>
<circle cx="1581.4" cy="768.2" r="7" fill="#fff"/><circle cx="1581.4" cy="768.2" r="4.75" fill="#4d7acf" stroke="#2f65c8" stroke-width="1.4"/>
<circle cx="1612.3" cy="736.0" r="7" fill="#fff"/><circle cx="1612.3" cy="736.0" r="4.75" fill="#4d7acf" stroke="#2f65c8" stroke-width="1.4"/>
<circle cx="1644.8" cy="705.6" r="7" fill="#fff"/><circle cx="1644.8" cy="705.6" r="4.75" fill="#4d7acf" stroke="#2f65c8" stroke-width="1.4"/>
</g>
<g font-family="Liberation Sans, sans-serif" font-size="29" fill="#fff" stroke="#fff" stroke-width="3.4" stroke-linejoin="round" opacity="0.85">
<text x="171.6" y="145.9" textLength="55.2" lengthAdjust="spacingAndGlyphs">1.4K</text>
<text x="171.6" y="252.5" textLength="55.2" lengthAdjust="spacingAndGlyphs">1.2K</text>
<text x="171.6" y="359.3" textLength="61.3" lengthAdjust="spacingAndGlyphs">1000</text>
<text x="171.6" y="465.9" textLength="45.2" lengthAdjust="spacingAndGlyphs">800</text>
<text x="171.6" y="572.6" textLength="45.2" lengthAdjust="spacingAndGlyphs">600</text>
<text x="171.6" y="679.2" textLength="45.2" lengthAdjust="spacingAndGlyphs">400</text>
<text x="171.6" y="785.6" textLength="45.2" lengthAdjust="spacingAndGlyphs">200</text>
</g>
<g font-family="Liberation Sans, sans-serif" font-size="29" fill="#000" stroke="#000" stroke-width="0.8">
<text x="171.6" y="145.9" textLength="55.2" lengthAdjust="spacingAndGlyphs">1.4K</text>
<text x="171.6" y="252.5" textLength="55.2" lengthAdjust="spacingAndGlyphs">1.2K</text>
<text x="171.6" y="359.3" textLength="61.3" lengthAdjust="spacingAndGlyphs">1000</text>
<text x="171.6" y="465.9" textLength="45.2" lengthAdjust="spacingAndGlyphs">800</text>
<text x="171.6" y="572.6" textLength="45.2" lengthAdjust="spacingAndGlyphs">600</text>
<text x="171.6" y="679.2" textLength="45.2" lengthAdjust="spacingAndGlyphs">400</text>
<text x="171.6" y="785.6" textLength="45.2" lengthAdjust="spacingAndGlyphs">200</text>
</g>
<g font-family="Liberation Sans, sans-serif" font-size="29" fill="#000" stroke="#000" stroke-width="0.8">
<text x="345.4" y="927.3" text-anchor="middle" textLength="136.6" lengthAdjust="spacingAndGlyphs">01.12.2019</text>
<text x="586.9" y="927.3" text-anchor="middle" textLength="136.6" lengthAdjust="spacingAndGlyphs">08.01.2020</text>
<text x="826.9" y="927.3" text-anchor="middle" textLength="136.6" lengthAdjust="spacingAndGlyphs">15.02.2020</text>
<text x="1069.1" y="927.3" text-anchor="middle" textLength="136.6" lengthAdjust="spacingAndGlyphs">24.03.2020</text>
<text x="1309.4" y="927.3" text-anchor="middle" textLength="136.6" lengthAdjust="spacingAndGlyphs">01.05.2020</text>
<text x="1645.4" y="927.3" text-anchor="end" textLength="136.6" lengthAdjust="spacingAndGlyphs">23.06.2020</text>
</g>
<rect x="229.5" y="160.8" width="275.8" height="93.1" fill="#fff" fill-opacity="0.9" stroke="#c6c6c6" stroke-width="2"/>
<circle cx="247.5" cy="186.8" r="9.6" fill="#cf0a24"/>
<circle cx="247.5" cy="229.3" r="9.6" fill="#1565d8"/>
<g font-family="Liberation Sans, sans-serif" font-size="26" fill="#111" stroke="#111" stroke-width="0.3">
<text x="277.8" y="197" textLength="218" lengthAdjust="spacingAndGlyphs">Bosch Hausgeräte</text>
<text x="277.8" y="238.2" textLength="124.8" lengthAdjust="spacingAndGlyphs">Bauknecht</text>
</g>
<rect x="1655" y="903" width="1.5" height="4" fill="#7da3e6"/><rect x="1655" y="911" width="1.5" height="3" fill="#e07a93"/>
</svg>
</body></html>
